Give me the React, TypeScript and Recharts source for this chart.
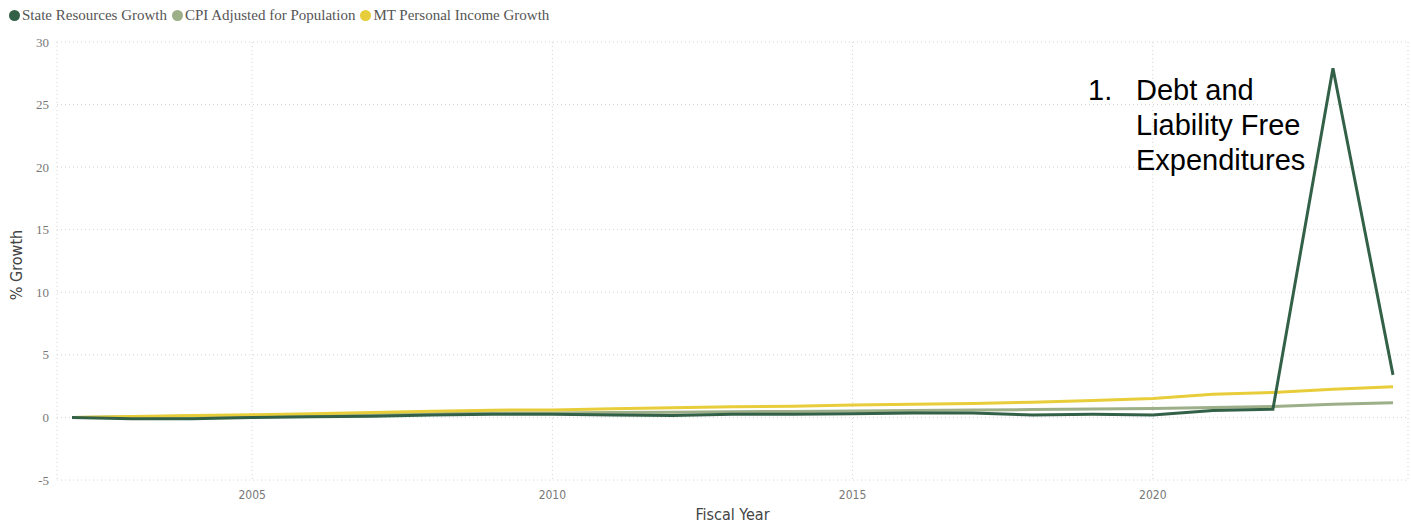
import React from 'react';
import { LineChart, Line, XAxis, YAxis, CartesianGrid } from 'recharts';

const years = [2002, 2003, 2004, 2005, 2006, 2007, 2008, 2009, 2010, 2011, 2012, 2013, 2014, 2015, 2016, 2017, 2018, 2019, 2020, 2021, 2022, 2023, 2024];
const stateResources = [0, -0.1, -0.1, 0.0, 0.05, 0.1, 0.2, 0.25, 0.25, 0.2, 0.15, 0.25, 0.25, 0.3, 0.35, 0.35, 0.2, 0.25, 0.2, 0.55, 0.65, 27.9, 3.4];
const cpiAdjusted = [0, 0.05, 0.1, 0.15, 0.2, 0.25, 0.3, 0.35, 0.35, 0.4, 0.42, 0.45, 0.48, 0.52, 0.55, 0.6, 0.63, 0.68, 0.72, 0.8, 0.88, 1.05, 1.17];
const personalIncome = [0, 0.08, 0.15, 0.22, 0.3, 0.4, 0.5, 0.58, 0.6, 0.7, 0.78, 0.85, 0.9, 1.0, 1.05, 1.12, 1.22, 1.35, 1.52, 1.85, 2.0, 2.25, 2.45];
const xTicks = [2005, 2010, 2015, 2020];
const yTicks = [-5, 0, 5, 10, 15, 20, 25, 30];

const seriesNames = ['State Resources Growth', 'CPI Adjusted for Population', 'MT Personal Income Growth'];
const seriesColors = ['#336148', '#9caf88', '#e8cd3a'];

const data = years.map((y, i) => ({
  year: y,
  state: stateResources[i],
  cpi: cpiAdjusted[i],
  income: personalIncome[i],
}));

const LegendContent = () => (
  <div style={{ position: 'absolute', left: 9, top: 7, display: 'flex', alignItems: 'center', fontFamily: '"Liberation Serif", "Times New Roman", serif', fontSize: 15, color: '#555', whiteSpace: 'nowrap' }}>
    {seriesNames.map((n, i) => (
      <span key={n} style={{ display: 'inline-flex', alignItems: 'center', marginRight: 5 }}>
        <span style={{ display: 'inline-block', width: 11, height: 11, borderRadius: '50%', background: seriesColors[i], marginRight: 2 }} />
        {n}
      </span>
    ))}
  </div>
);

const YLabel = () => (
  <text x={17} y={265} transform="rotate(-90 17 265)" textAnchor="middle" dominantBaseline="middle" fill="#444" fontSize={16} fontFamily='"DejaVu Sans Condensed", "Open Sans", sans-serif'>% Growth</text>
);

export default function App() {
  return (
    <div style={{ position: 'absolute', left: 0, top: 0, width: 1411, height: 525, background: '#fff' }}>
      <LineChart width={1411} height={525} data={data} margin={{ top: 42, right: 3, bottom: 0, left: 0 }}>
        <CartesianGrid stroke="#d4d4d4" strokeDasharray="1 3" />
        <XAxis
          dataKey="year"
          type="number"
          domain={[2002, 2024]}
          ticks={xTicks}
          padding={{ left: 15, right: 15 }}
          axisLine={false}
          tickLine={false}
          height={45}
          tickMargin={4}
          tick={{ fill: '#777', fontSize: 12, fontFamily: '"DejaVu Sans Condensed", "Open Sans", sans-serif' }}
          label={{ value: 'Fiscal Year', position: 'insideBottom', offset: 5, fill: '#444', fontSize: 16, fontFamily: '"DejaVu Sans Condensed", "Open Sans", sans-serif' }}
        />
        <YAxis
          type="number"
          domain={[-5, 30]}
          ticks={yTicks}
          width={57}
          axisLine={false}
          tickLine={false}
          tick={{ fill: '#777', fontSize: 13, fontFamily: '"Liberation Serif", "Times New Roman", serif' }}
          label={<YLabel />}
        />
        <Line type="linear" dataKey="cpi" name={seriesNames[1]} stroke={seriesColors[1]} strokeWidth={3} dot={false} isAnimationActive={false} />
        <Line type="linear" dataKey="income" name={seriesNames[2]} stroke={seriesColors[2]} strokeWidth={3} dot={false} isAnimationActive={false} />
        <Line type="linear" dataKey="state" name={seriesNames[0]} stroke={seriesColors[0]} strokeWidth={3} dot={false} isAnimationActive={false} />
      </LineChart>
      <LegendContent />
      <div style={{ position: 'absolute', left: 1088, top: 73, fontFamily: '"Liberation Sans", Arial, sans-serif', fontSize: 29, lineHeight: '35px', color: '#000', display: 'flex' }}>
        <span style={{ width: 48 }}>1.</span>
        <span>Debt and<br />Liability Free<br />Expenditures</span>
      </div>
    </div>
  );
}
